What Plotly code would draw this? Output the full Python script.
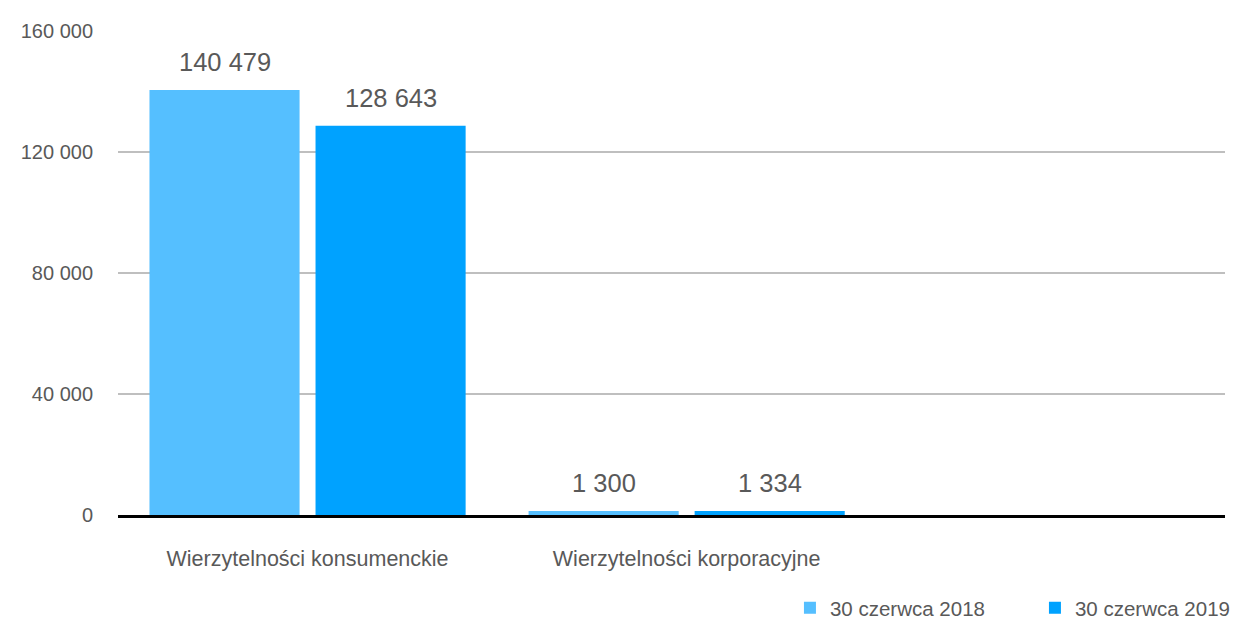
import plotly.graph_objects as go

categories = ["Wierzytelności konsumenckie", "Wierzytelności korporacyjne"]
series_names = ["30 czerwca 2018", "30 czerwca 2019"]
values_2018 = [140479, 1300]
values_2019 = [128643, 1334]
y_ticks = [0, 40000, 80000, 120000, 160000]

colors = ["#55BFFF", "#00A2FF"]
font_family = "Liberation Sans Narrow, Arial Narrow, Arial, sans-serif"
text_grey = "#595959"

# bar geometry (px) used to place value labels above each bar
bargap = 0.124
bargroupgap = 0.096
plot_w = 1107
x_range = [-0.5, 2.42]
cat_px = plot_w / (x_range[1] - x_range[0])
slot_px = cat_px * (1 - bargap) / 2

fig = go.Figure()
for name, vals, col in zip(series_names, [values_2018, values_2019], colors):
    fig.add_trace(go.Bar(
        x=categories,
        y=vals,
        name=name,
        marker=dict(color=col, line=dict(width=0)),
    ))

annotations = []
for i, vals in enumerate([values_2018, values_2019]):
    shift = (i - 0.5) * slot_px
    for cat, v in zip(categories, vals):
        annotations.append(dict(
            x=cat, y=v, xref="x", yref="y",
            text=f"{v:,}".replace(",", " "),
            showarrow=False,
            yanchor="bottom",
            xshift=shift,
            yshift=12,
            font=dict(size=25.5, color=text_grey, family=font_family),
        ))

# body margin of the html page is 8px, so the figure is 8px smaller
fig.update_layout(
    width=1230,
    height=613,
    margin=dict(l=110, r=13, t=23, b=106, autoexpand=False),
    plot_bgcolor="white",
    paper_bgcolor="white",
    separators=", ",
    barmode="group",
    bargap=bargap,
    bargroupgap=bargroupgap,
    font=dict(family=font_family, color=text_grey, size=20),
    showlegend=True,
    legend=dict(
        orientation="h",
        x=0.607,
        xanchor="left",
        y=-0.192,
        yanchor="middle",
        font=dict(size=20.5, color=text_grey),
        itemwidth=30,
        entrywidth=200,
        entrywidthmode="pixels",
        traceorder="normal",
    ),
    annotations=annotations,
)

fig.update_xaxes(
    type="category",
    range=x_range,
    showline=True,
    linecolor="black",
    linewidth=2.5,
    showgrid=False,
    ticks="",
    ticklabelstandoff=22,
    tickfont=dict(size=21.5, color=text_grey),
    automargin=False,
)
fig.update_yaxes(
    range=[0, 160000],
    tickvals=y_ticks,
    tickformat=",d",
    showgrid=True,
    gridcolor="#BFBFBF",
    gridwidth=2,
    zeroline=False,
    showline=False,
    ticks="",
    ticklabelstandoff=24,
    tickfont=dict(size=20, color=text_grey),
    automargin=False,
)

fig.write_html("out.html")
